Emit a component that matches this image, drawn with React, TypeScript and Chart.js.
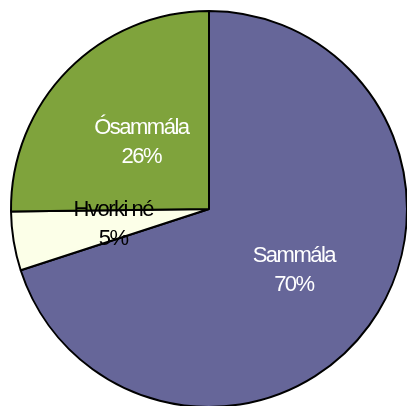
import React, { useEffect, useRef } from "react";
import { Chart, registerables } from "chart.js";

Chart.register(...registerables);

const categories: string[] = ["Sammála", "Hvorki né", "Ósammála"];
const values: number[] = [70.0, 4.8, 25.2];
const percentLabels: string[] = ["70%", "5%", "26%"];

const sliceColors = ["#666699", "#FCFFE8", "#7FA33C"];
const labelColors = ["#FFFFFF", "#000000", "#FFFFFF"];
const labelRadius = [0.53, 0.49, 0.48];

const labelPlugin = {
  id: "sliceLabels",
  afterDatasetsDraw(chart: any) {
    const ctx: CanvasRenderingContext2D = chart.ctx;
    const meta = chart.getDatasetMeta(0);
    ctx.save();
    ctx.font = "22px 'Liberation Sans', Arial, sans-serif";
    (ctx as any).letterSpacing = "-1.5px";
    ctx.textAlign = "center";
    ctx.textBaseline = "middle";
    meta.data.forEach((arc: any, i: number) => {
      const { x, y, startAngle, endAngle, outerRadius } = arc.getProps(
        ["x", "y", "startAngle", "endAngle", "outerRadius"],
        true
      );
      const mid = (startAngle + endAngle) / 2;
      const r = outerRadius * labelRadius[i];
      const cx = x + Math.cos(mid) * r;
      const cy = y + Math.sin(mid) * r;
      ctx.fillStyle = labelColors[i];
      ctx.fillText(categories[i], cx, cy - 14.5);
      ctx.fillText(percentLabels[i], cx, cy + 14.5);
    });
    ctx.restore();
  },
};

export default function App() {
  const ref = useRef<HTMLCanvasElement | null>(null);
  useEffect(() => {
    if (!ref.current) return;
    const chart = new Chart(ref.current, {
      type: "pie",
      data: {
        labels: categories,
        datasets: [
          {
            data: values,
            backgroundColor: sliceColors,
            borderColor: "#000000",
            borderWidth: 2,
          },
        ],
      },
      options: {
        responsive: false,
        animation: false,
        layout: { padding: { left: 10, top: 10, right: 12, bottom: 12 } },
        plugins: {
          legend: { display: false },
          tooltip: { enabled: false },
        },
      },
      plugins: [labelPlugin],
    });
    return () => chart.destroy();
  }, []);
  return (
    <div
      style={{
        position: "fixed",
        left: 0,
        top: 0,
        width: 407,
        height: 406,
        overflow: "hidden",
        background: "#ffffff",
      }}
    >
      <canvas ref={ref} width={420} height={420} style={{ display: "block" }} />
    </div>
  );
}
